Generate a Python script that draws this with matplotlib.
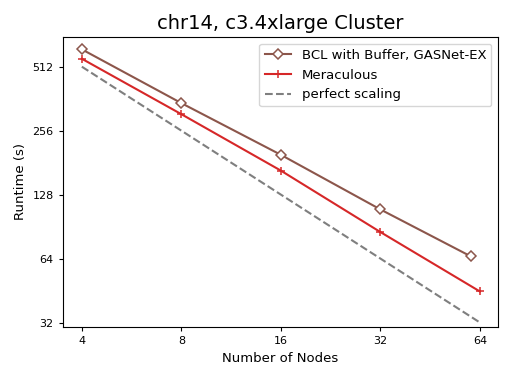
import matplotlib
matplotlib.use("Agg")
import matplotlib.pyplot as plt
import matplotlib.ticker as mticker

# Values
nodes = [4, 8, 16, 32, 64]
bcl_nodes = [4, 8, 16, 32, 60]
bcl_runtime = [618, 345, 197, 109, 65.6]
meraculous_runtime = [558, 306, 166, 85.3, 44.8]
perfect_runtime = [512, 256, 128, 64, 32]
y_ticks = [32, 64, 128, 256, 512]

fig = plt.figure(figsize=(5.15, 3.86), dpi=100)
ax = fig.add_axes([0.1217, 0.153, 0.8453, 0.751])

ax.plot(bcl_nodes, bcl_runtime, color="#8c564b", linewidth=1.5, marker="D",
        markersize=5.5, markerfacecolor="white", markeredgewidth=1.1,
        label="BCL with Buffer, GASNet-EX")
ax.plot(nodes, meraculous_runtime, color="#d62728", linewidth=1.5, marker="+",
        markersize=6, markeredgewidth=1.1, label="Meraculous")
ax.plot(nodes, perfect_runtime, color="#7f7f7f", linewidth=1.5, linestyle="--",
        label="perfect scaling")

ax.set_xscale("log", base=2)
ax.set_yscale("log", base=2)
ax.xaxis.set_major_locator(mticker.FixedLocator(nodes))
ax.xaxis.set_major_formatter(mticker.FixedFormatter([str(n) for n in nodes]))
ax.yaxis.set_major_locator(mticker.FixedLocator(y_ticks))
ax.yaxis.set_major_formatter(mticker.FixedFormatter([str(t) for t in y_ticks]))
ax.xaxis.set_minor_locator(mticker.NullLocator())
ax.yaxis.set_minor_locator(mticker.NullLocator())
ax.tick_params(labelsize=8, length=3)

ax.set_xlim(3.5, 72.6)
ax.set_ylim(30.5, 706)

ax.set_title("chr14, c3.4xlarge Cluster", fontsize=14)
ax.set_xlabel("Number of Nodes", fontsize=9.5)
ax.set_ylabel("Runtime (s)", fontsize=9.5)
ax.legend(loc="upper right", fontsize=9.5)

fig.savefig("out.png", dpi=100)
